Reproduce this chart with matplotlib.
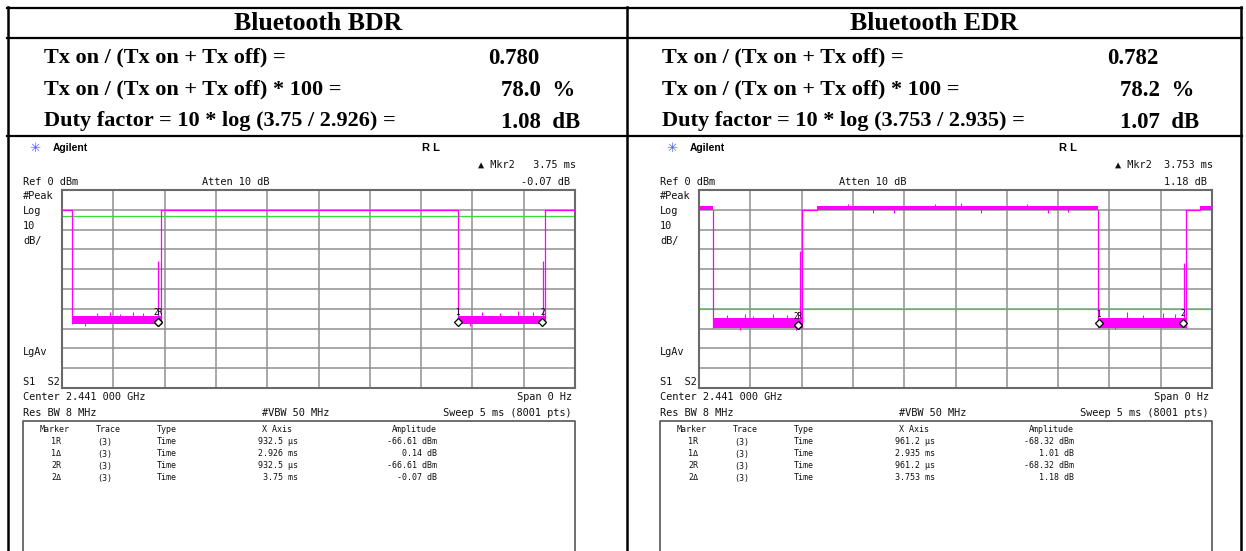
"""
Bluetooth BDR / EDR duty-cycle table with the two analyzer screenshots.
Saves to out.png
"""
import matplotlib
matplotlib.use("Agg")
import matplotlib.pyplot as plt
import numpy as np

W, H = 1246, 551
SERIF = "Liberation Serif"
MONO = "DejaVu Sans Mono"
SANS = "Liberation Sans"
MAGENTA = "#ff00ff"
GREEN = "#33e033"
GRID = "#8f8f8f"

# ── summary table ────────────────────────────────────────────────────────────
TITLES = ["Bluetooth BDR", "Bluetooth EDR"]
BDR_ROWS = ["Tx on / (Tx on + Tx off) =",
            "Tx on / (Tx on + Tx off) * 100 =",
            "Duty factor = 10 * log (3.75 / 2.926) ="]
BDR_VALUES = ["0.780", "78.0  %", "1.08  dB"]
EDR_ROWS = ["Tx on / (Tx on + Tx off) =",
            "Tx on / (Tx on + Tx off) * 100 =",
            "Duty factor = 10 * log (3.753 / 2.935) ="]
EDR_VALUES = ["0.782", "78.2  %", "1.07  dB"]

# ── marker tables (as read from the analyzer) ────────────────────────────────
MKR_NAMES = ["1R", "1Δ", "2R", "2Δ"]
BDR_MKR_X = ["932.5 µs", "2.926 ms", "932.5 µs", "3.75 ms"]
BDR_MKR_AMP = ["-66.61 dBm", "0.14 dB", "-66.61 dBm", "-0.07 dB"]
EDR_MKR_X = ["961.2 µs", "2.935 ms", "961.2 µs", "3.753 ms"]
EDR_MKR_AMP = ["-68.32 dBm", "1.01 dB", "-68.32 dBm", "1.18 dB"]

# ── traces: time in ms, level in dBm ─────────────────────────────────────────
ON_DBM = -10.0
BDR_OFF_MS = [(0.10, 0.965), (3.86, 4.71)]
BDR_OFF_BAND = (-67.5, -63.5)
BDR_ON_FLAT_MS = [(0.0, 0.10), (0.965, 3.86), (4.71, 5.0)]
BDR_ON_BAND_MS = []
BDR_ON_BAND = (-10.0, -10.0)
BDR_PRE_MS = [0.935, 4.69]
BDR_PRE_DBM = [-36, -36]
BDR_SPIKE_MS = [0.34, 0.47, 0.57, 0.69, 0.79, 0.22, 4.09, 4.27, 4.44, 4.59, 3.98]
BDR_SPIKE_DBM = [-62, -61.5, -62.5, -61.5, -62, -68.5, -61.5, -62, -61, -61.5, -68.5]
BDR_LINE_DBM = -13

EDR_OFF_MS = [(0.135, 1.00), (3.89, 4.75)]
EDR_OFF_BAND = (-69.5, -64.5)
EDR_ON_FLAT_MS = [(1.00, 1.15), (4.75, 4.88)]
EDR_ON_BAND_MS = [(0.0, 0.135), (1.15, 3.89), (4.88, 5.0)]
EDR_ON_BAND = (-10.2, -8.0)
EDR_PRE_MS = [0.98, 4.73]
EDR_PRE_DBM = [-31, -37]
EDR_SPIKE_MS = [0.27, 0.45, 0.53, 0.72, 0.86, 0.40, 0.95, 4.17, 4.33, 4.52, 4.64, 4.05,
                1.45, 1.9, 2.3, 2.75, 3.2, 3.6, 1.7, 2.55, 3.4]
EDR_SPIKE_DBM = [-63, -62.5, -63.5, -62.5, -63, -70.5, -70.5, -61.5, -63, -62, -62.5, -70,
                 -7, -11.5, -7, -11.5, -7, -11, -11.5, -6.5, -11.5]
EDR_LINE_DBM = -60


def to_ms(s):
    v, unit = s.split()
    return float(v) / 1000 if unit == "µs" else float(v)


def draw_trace(ax, off_ms, off_band, on_flat_ms, on_band_ms, on_band,
               pre_ms, pre_dbm, spike_ms, spike_dbm, line_dbm, mkr_x, mkr_amp):
    ax.set_xlim(0, 5)
    ax.set_ylim(-100, 0)
    ax.set_xticks(np.linspace(0, 5, 11))
    ax.set_yticks(np.linspace(-100, 0, 11))
    ax.grid(True, color=GRID, lw=1.1)
    ax.tick_params(length=0, labelbottom=False, labelleft=False)
    for s in ax.spines.values():
        s.set_color("#6a6a6a")
        s.set_linewidth(1.5)
    ax.axhline(line_dbm, color=GREEN, lw=0.9, zorder=2)

    kw = dict(color=MAGENTA, lw=0.9, zorder=3)
    for a, b in on_flat_ms:
        ax.plot([a, b], [ON_DBM, ON_DBM], **kw)
    for a, b in on_band_ms:
        ax.fill_between([a, b], on_band[0], on_band[1], color=MAGENTA, lw=0, zorder=3)
    for a, b in off_ms:
        ax.fill_between([a, b], off_band[0], off_band[1], color=MAGENTA, lw=0, zorder=3)
        ax.vlines([a, b], off_band[0], ON_DBM, **kw)
    ax.vlines(pre_ms, off_band[1], pre_dbm, **kw)

    off_mid = sum(off_band) / 2
    on_mid = sum(on_band) / 2
    base = [off_mid if any(a <= t <= b for a, b in off_ms) else on_mid for t in spike_ms]
    ax.vlines(spike_ms, base, spike_dbm, color=MAGENTA, lw=0.8, zorder=3)

    # markers: R = absolute, delta = relative to the R marker with same number
    pts = []
    ref = {}
    for name, xs, amp in zip(MKR_NAMES, mkr_x, mkr_amp):
        t, a = to_ms(xs), float(amp.split()[0])
        if name.endswith("R"):
            ref[name[0]] = (t, a)
        else:
            t, a = ref[name[0]][0] + t, ref[name[0]][1] + a
        pts.append((name, t, a))
    for i, (name, t, a) in enumerate(pts):
        ax.plot(t, a, marker="D", ms=3.6, mfc="white", mec="black", mew=0.9, zorder=5)
        later = [p for p in pts[i + 1:] if abs(p[1] - t) < 1e-6]
        if later:
            continue
        label = name if name.endswith("R") else name[0]
        ax.annotate(label, (t, a), xytext=(0, 6.5), textcoords="offset points",
                    ha="center", va="center", fontsize=5.5, family=MONO, zorder=6)


def draw_screen(bg, dx, mkr_x, mkr_amp):
    t = dict(family=MONO, fontsize=7.4, va="center", color="#111111")
    bg.text(dx + 35, 148, "✳", color="#4a5cff", fontsize=9.5, ha="center", va="center")
    bg.text(dx + 53, 148, "Agilent", family=SANS, weight="bold", fontsize=7.4, va="center")
    bg.text(dx + 431, 148, "R L", family=SANS, weight="bold", fontsize=8, ha="center", va="center")
    bg.text(dx + 576, 165, "\u25b2 Mkr2" + mkr_x[-1].rjust(10), ha="right", **t)
    bg.text(dx + 570, 182, mkr_amp[-1], ha="right", **t)
    bg.text(dx + 23, 182, "Ref 0 dBm", **t)
    bg.text(dx + 202, 182, "Atten 10 dB", **t)
    for y, s in [(196, "#Peak"), (211, "Log"), (226, "10"), (241, "dB/"),
                 (352, "LgAv"), (382, "S1  S2")]:
        bg.text(dx + 23, y, s, **t)
    bg.text(dx + 23, 397, "Center 2.441 000 GHz", **t)
    bg.text(dx + 572, 397, "Span 0 Hz", ha="right", **t)
    bg.text(dx + 23, 413, "Res BW 8 MHz", **t)
    bg.text(dx + 262, 413, "#VBW 50 MHz", **t)
    bg.text(dx + 572, 413, "Sweep 5 ms (8001 pts)", ha="right", **t)

    # marker table box
    bg.plot([dx + 23, dx + 23, dx + 575, dx + 575], [H, 421, 421, H],
            color="#555555", lw=1.2)
    m = dict(family=MONO, fontsize=6.0, va="center", color="#111111")
    bg.text(dx + 55, 430, "Marker", ha="center", **m)
    bg.text(dx + 108, 430, "Trace", ha="center", **m)
    bg.text(dx + 157, 430, "Type", **m)
    bg.text(dx + 262, 430, "X Axis", **m)
    bg.text(dx + 437, 430, "Amplitude", ha="right", **m)
    for i, (name, xs, amp) in enumerate(zip(MKR_NAMES, mkr_x, mkr_amp)):
        y = 442 + i * 12
        bg.text(dx + 56, y, name, ha="center", **m)
        bg.text(dx + 105, y, "(3)", ha="center", **m)
        bg.text(dx + 157, y, "Time", **m)
        bg.text(dx + 298, y, xs, ha="right", **m)
        bg.text(dx + 437, y, amp, ha="right", **m)


fig = plt.figure(figsize=(W / 100, H / 100), dpi=100)
fig.patch.set_facecolor("white")
bg = fig.add_axes([0, 0, 1, 1])
bg.set_xlim(0, W)
bg.set_ylim(H, 0)
bg.axis("off")

# table rules
for y in [8, 38, 136]:
    bg.plot([7, 1242], [y, y], color="black", lw=1.6)
for x in [8, 627, 1241]:
    bg.plot([x, x], [7, H], color="black", lw=1.8)

# headers and rows
for cx, title in zip([318, 934], TITLES):
    bg.text(cx, 23, title, family=SERIF, weight="bold", fontsize=18.5,
            ha="center", va="center")
for x0, rows, vals, vx in [(44, BDR_ROWS, BDR_VALUES, [488, 501, 501]),
                           (662, EDR_ROWS, EDR_VALUES, [1107, 1120, 1120])]:
    for i, (r, v) in enumerate(zip(rows, vals)):
        y = 57 + i * 32
        bg.text(x0, y, r, family=SERIF, weight="bold", fontsize=16, va="center")
        bg.text(vx[i], y + 2, v, family=SERIF, weight="bold", fontsize=16.5, va="center")

# screenshots
draw_screen(bg, 0, BDR_MKR_X, BDR_MKR_AMP)
draw_screen(bg, 637, EDR_MKR_X, EDR_MKR_AMP)

ax1 = fig.add_axes([62 / W, 1 - 388 / H, 513 / W, 198 / H])
draw_trace(ax1, BDR_OFF_MS, BDR_OFF_BAND, BDR_ON_FLAT_MS, BDR_ON_BAND_MS, BDR_ON_BAND,
           BDR_PRE_MS, BDR_PRE_DBM, BDR_SPIKE_MS, BDR_SPIKE_DBM, BDR_LINE_DBM,
           BDR_MKR_X, BDR_MKR_AMP)
ax2 = fig.add_axes([(62 + 637) / W, 1 - 388 / H, 513 / W, 198 / H])
draw_trace(ax2, EDR_OFF_MS, EDR_OFF_BAND, EDR_ON_FLAT_MS, EDR_ON_BAND_MS, EDR_ON_BAND,
           EDR_PRE_MS, EDR_PRE_DBM, EDR_SPIKE_MS, EDR_SPIKE_DBM, EDR_LINE_DBM,
           EDR_MKR_X, EDR_MKR_AMP)

fig.savefig("out.png", dpi=100, facecolor="white")
plt.close(fig)
